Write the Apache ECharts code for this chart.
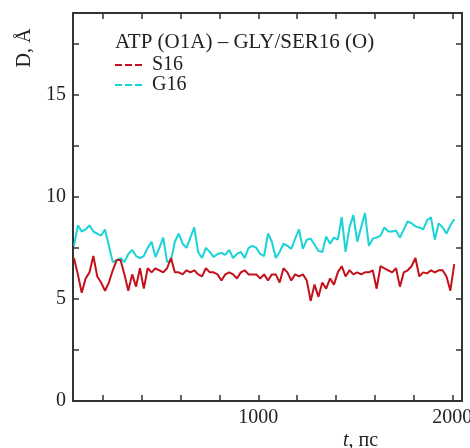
<!DOCTYPE html>
<html lang="ru">
<head>
<meta charset="utf-8"/>
<script src="https://cdn.jsdelivr.net/npm/echarts@6/dist/echarts.min.js"></script>
<style>
    html, body { margin: 0; padding: 0; background: #fff; }
    #main { width: 470px; height: 448px; }
</style>
</head>
<body>
<div id="main"></div>
<script>
    // время, пс
    var times = [
        50, 70, 90, 110, 130, 150, 170, 190, 210, 230,
        250, 270, 290, 310, 330, 350, 370, 390, 410, 430,
        450, 470, 490, 510, 530, 550, 570, 590, 610, 630,
        650, 670, 690, 710, 730, 750, 770, 790, 810, 830,
        850, 870, 890, 910, 930, 950, 970, 990, 1010, 1030,
        1050, 1070, 1090, 1110, 1130, 1150, 1170, 1190, 1210, 1230,
        1250, 1270, 1290, 1310, 1330, 1350, 1370, 1390, 1410, 1430,
        1450, 1470, 1490, 1510, 1530, 1550, 1570, 1590, 1610, 1630,
        1650, 1670, 1690, 1710, 1730, 1750, 1770, 1790, 1810, 1830,
        1850, 1870, 1890, 1910, 1930, 1950, 1970, 1990, 2010
    ];
    // S16
    var s16 = [
        7.0, 6.2, 5.3, 6.0, 6.3, 7.1, 6.1, 5.8, 5.4, 5.8,
        6.4, 6.9, 6.9, 6.2, 5.4, 6.2, 5.6, 6.5, 5.5, 6.5,
        6.3, 6.5, 6.4, 6.3, 6.5, 7.0, 6.3, 6.3, 6.2, 6.4,
        6.3, 6.4, 6.2, 6.1, 6.5, 6.3, 6.3, 6.2, 5.9, 6.2,
        6.3, 6.2, 6.0, 6.3, 6.4, 6.2, 6.2, 6.2, 6.0, 6.2,
        5.9, 6.2, 6.2, 5.8, 6.5, 6.3, 5.9, 6.2, 6.1, 6.2,
        5.9, 4.9, 5.7, 5.1, 5.8, 5.5, 6.0, 5.7, 6.3, 6.6,
        6.1, 6.4, 6.2, 6.3, 6.2, 6.3, 6.3, 6.4, 5.5, 6.6,
        6.5, 6.4, 6.3, 6.5, 5.6, 6.3, 6.4, 6.6, 7.0, 6.1,
        6.3, 6.25, 6.4, 6.3, 6.4, 6.4, 6.1, 5.4, 6.7
    ];
    // G16
    var g16 = [
        7.6, 8.6, 8.3, 8.4, 8.6, 8.3, 8.2, 8.1, 8.4, 7.6,
        6.8, 6.9, 7.0, 6.8, 7.2, 7.4, 7.1, 7.0, 7.1, 7.5,
        7.8, 7.05, 7.5, 8.0, 6.8, 6.9, 7.8, 8.2, 7.7, 7.5,
        8.0, 8.5, 7.3, 7.0, 7.5, 7.3, 7.05, 7.2, 7.25, 7.15,
        7.4, 7.0, 7.2, 7.3, 7.0, 7.5, 7.6, 7.5, 7.2, 7.1,
        8.2, 7.8, 7.0, 7.3, 7.7, 7.6, 7.45, 7.95, 8.4, 7.45,
        7.9, 7.95, 7.65, 7.35, 7.3, 8.05, 7.7, 8.0, 7.9, 9.0,
        7.3, 8.5, 9.1, 7.8, 8.5, 9.2, 7.6, 7.95, 8.0, 8.1,
        8.5, 8.3, 8.3, 8.35, 8.0, 8.4, 8.8, 8.7, 8.55, 8.5,
        8.4, 8.85, 9.0, 7.9, 8.7, 8.5, 8.2, 8.6, 8.9
    ];
    var xTicks = [200, 400, 600, 800, 1000, 1200, 1400, 1600, 1800, 2000];
    var xLabels = [1000, 2000];
    var yTicks = [0, 2.5, 5, 7.5, 10, 12.5, 15, 17.5];
    var yLabels = [0, 5, 10, 15];

    var font = 'Liberation Serif';
    var axisColor = '#333';

    function pairs(vals) {
        return times.map(function (t, i) { return [t, vals[i]]; });
    }

    function xAxisOf(pos, labels) {
        return {
            type: 'value', position: pos, min: 45, max: 2050,
            axisLine: {show: true, onZero: false, lineStyle: {color: axisColor, width: 2}},
            axisTick: {show: true, inside: true, length: 6, customValues: xTicks,
                lineStyle: {color: axisColor, width: 1.5}},
            axisLabel: {show: labels, customValues: xLabels, margin: 7,
                fontFamily: font, fontSize: 20, color: '#222',
                formatter: function (v) { return String(v); }},
            splitLine: {show: false}
        };
    }

    function yAxisOf(pos, labels) {
        return {
            type: 'value', position: pos, min: 0, max: 19,
            axisLine: {show: true, onZero: false, lineStyle: {color: axisColor, width: 2}},
            axisTick: {show: true, inside: true, length: 6, customValues: yTicks,
                lineStyle: {color: axisColor, width: 1.5}},
            axisLabel: {show: labels, customValues: yLabels, margin: 7,
                fontFamily: font, fontSize: 20, color: '#222'},
            splitLine: {show: false}
        };
    }

    var myChart = echarts.init(document.getElementById('main'));
    var option = {
        animation: false,
        backgroundColor: '#fff',
        grid: {left: 73, top: 13, right: 8, bottom: 47, outerBoundsMode: 'none', containLabel: false},
        xAxis: [xAxisOf('bottom', true), xAxisOf('top', false)],
        yAxis: [yAxisOf('left', true), yAxisOf('right', false)],
        legend: {
            orient: 'vertical', left: 114, top: 55, padding: 0,
            itemWidth: 28, itemHeight: 10, itemGap: 0,
            textStyle: {fontFamily: font, fontSize: 20, color: '#222', lineHeight: 18, padding: [0, 0, 0, 4]},
            itemStyle: {color: 'transparent', borderWidth: 0, opacity: 0},
            lineStyle: {type: [7, 3], width: 2},
            data: ['S16', 'G16']
        },
        graphic: [
            {type: 'text', left: 115, top: 32,
                style: {text: 'ATP (O1A) – GLY/SER16 (O)', fontFamily: font, fontSize: 21, fill: '#222'}},
            {type: 'text', x: 25, y: 48, rotation: Math.PI / 2,
                style: {text: 'D, Å', fontFamily: font, fontSize: 20, fill: '#222',
                    align: 'center', verticalAlign: 'middle'}},
            {type: 'text', left: 343, top: 431,
                style: {text: '{i|t}, пс', fontFamily: font, fontSize: 20, fill: '#222',
                    rich: {i: {fontFamily: font, fontSize: 20, fontStyle: 'italic', fill: '#222'}}}}
        ],
        series: [
            {name: 'G16', type: 'line', symbol: 'none', data: pairs(g16), z: 2,
                itemStyle: {color: '#1ad3d6'}, lineStyle: {color: '#1ad3d6', width: 2}},
            {name: 'S16', type: 'line', symbol: 'none', data: pairs(s16), z: 3,
                itemStyle: {color: '#c4101a'}, lineStyle: {color: '#c4101a', width: 2}}
        ]
    };
    myChart.setOption(option);
</script>
</body>
</html>
